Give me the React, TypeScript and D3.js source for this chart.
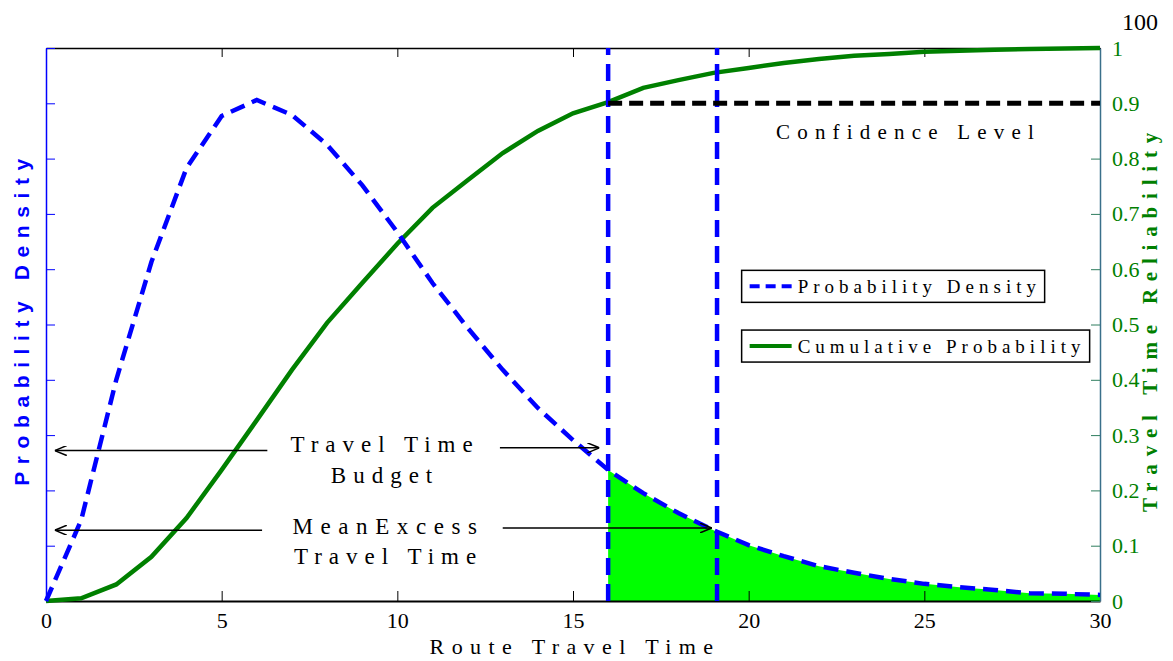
import React, { useEffect, useRef } from "react";
import * as d3 from "d3";

// route travel time (x) samples
const travelTimes = d3.range(0, 31);

// probability density (left axis, 0..0.1)
const densityValues = [
  0, 0.0146, 0.04, 0.0613, 0.0783, 0.0877, 0.0906, 0.0879, 0.0825, 0.0752,
  0.0667, 0.0575, 0.0494, 0.0418, 0.0349, 0.0291, 0.0237, 0.0195, 0.0159,
  0.0128, 0.0101, 0.0081, 0.0063, 0.0051, 0.004, 0.0031, 0.0025, 0.002,
  0.0014, 0.0013, 0.0011,
];

// cumulative probability (right axis, 0..1)
const cumulativeValues = [
  0, 0.005, 0.03, 0.08, 0.15, 0.237, 0.327, 0.418, 0.503, 0.575, 0.646, 0.711,
  0.761, 0.81, 0.85, 0.882, 0.902, 0.928, 0.942, 0.955, 0.964, 0.973, 0.98,
  0.986, 0.989, 0.993, 0.995, 0.997, 0.998, 0.999, 1,
];

const xTicks = [0, 5, 10, 15, 20, 25, 30];
const rightTicks = [0, 0.1, 0.2, 0.3, 0.4, 0.5, 0.6, 0.7, 0.8, 0.9, 1];
const leftTicks = [0, 0.01, 0.02, 0.03, 0.04, 0.05, 0.06, 0.07, 0.08, 0.09, 0.1];

const budgetTime = 16;
const excessTime = 19.1;
const confidenceLevel = 0.9;

const SERIF = "Liberation Serif";
const SANS = "Liberation Sans";

const App = () => {
  const chartRef = useRef<HTMLDivElement>(null);

  useEffect(() => {
    d3.select(chartRef.current).select("svg").remove();

    const W = 1173;
    const H = 661;
    const margin = { top: 48, right: 73, bottom: 60, left: 46 };
    const width = W - margin.left - margin.right;
    const height = H - margin.top - margin.bottom;

    const root = d3
      .select(chartRef.current)
      .append("svg")
      .attr("width", W)
      .attr("height", H)
      .style("position", "absolute")
      .style("left", "0px")
      .style("top", "0px")
      .style("background", "#fff");

    const svg = root.append("g").attr("transform", `translate(${margin.left},${margin.top})`);

    const x = d3.scaleLinear().domain([0, 30]).range([0, width]);
    const yL = d3.scaleLinear().domain([0, 0.1]).range([height, 0]);
    const yR = d3.scaleLinear().domain([0, 1]).range([height, 0]);

    const pts = travelTimes.map((t, i) => ({ t, d: densityValues[i], c: cumulativeValues[i] }));

    // marker for arrows
    root
      .append("defs")
      .append("marker")
      .attr("id", "arrow")
      .attr("viewBox", "0 0 12 10")
      .attr("refX", 12)
      .attr("refY", 5)
      .attr("markerWidth", 12)
      .attr("markerHeight", 10)
      .attr("markerUnits", "userSpaceOnUse")
      .attr("orient", "auto")
      .append("path")
      .attr("d", "M0,0 L12,5 L0,10")
      .attr("fill", "none")
      .attr("stroke", "#000")
      .attr("stroke-width", 1.5);

    // green shaded tail under density beyond budget
    const tail = pts.filter((p) => p.t >= budgetTime);
    svg
      .append("path")
      .datum(tail)
      .attr("fill", "#00ff00")
      .attr(
        "d",
        d3
          .area<any>()
          .x((p) => x(p.t))
          .y0(height)
          .y1((p) => yL(p.d))
      );

    // bottom axis (ticks inward)
    const xAxis = svg
      .append("g")
      .attr("transform", `translate(0,${height})`)
      .call(d3.axisBottom(x).tickValues(xTicks).tickSize(-10).tickPadding(11).tickSizeOuter(0));
    xAxis.attr("font-family", SERIF).attr("font-size", 22);
    xAxis.select(".domain").attr("stroke", "#000").attr("stroke-width", 2);
    xAxis.selectAll("line").attr("stroke", "#000");
    xAxis.selectAll("text").attr("fill", "#000");

    // top border with ticks
    const topAxis = svg
      .append("g")
      .call(d3.axisTop(x).tickValues(xTicks).tickSize(-9).tickFormat(() => "").tickSizeOuter(0));
    topAxis.select(".domain").attr("stroke", "#000").attr("stroke-width", 1.5);
    topAxis.selectAll("line").attr("stroke", "#000");

    // left axis (blue, no labels)
    const leftAxis = svg
      .append("g")
      .call(d3.axisLeft(yL).tickValues(leftTicks).tickSize(-9).tickFormat(() => "").tickSizeOuter(0));
    leftAxis.select(".domain").attr("stroke", "#0000ff").attr("stroke-width", 1.5);
    leftAxis.selectAll("line").attr("stroke", "#0000ff");

    // right axis (green labels)
    const rightAxis = svg
      .append("g")
      .attr("transform", `translate(${width},0)`)
      .call(
        d3
          .axisRight(yR)
          .tickValues(rightTicks)
          .tickSize(-9)
          .tickPadding(12)
          .tickFormat((d) => `${d}`)
          .tickSizeOuter(0)
      );
    rightAxis.attr("font-family", SERIF).attr("font-size", 22);
    rightAxis.select(".domain").attr("stroke", "#3a6f8a").attr("stroke-width", 1.5);
    rightAxis.selectAll("line").attr("stroke", "#2e7d5e");
    rightAxis.selectAll("text").attr("fill", "#008000");

    // cumulative curve
    svg
      .append("path")
      .datum(pts)
      .attr("fill", "none")
      .attr("stroke", "#008000")
      .attr("stroke-width", 4.5)
      .attr(
        "d",
        d3
          .line<any>()
          .x((p) => x(p.t))
          .y((p) => yR(p.c))
      );

    // density curve
    svg
      .append("path")
      .datum(pts)
      .attr("fill", "none")
      .attr("stroke", "#0000ff")
      .attr("stroke-width", 4.5)
      .attr("stroke-dasharray", "15 8")
      .attr(
        "d",
        d3
          .line<any>()
          .x((p) => x(p.t))
          .y((p) => yL(p.d))
      );

    // vertical dashed lines at budget and mean excess
    [budgetTime, excessTime].forEach((t) => {
      svg
        .append("line")
        .attr("x1", x(t))
        .attr("x2", x(t))
        .attr("y1", height)
        .attr("y2", 0)
        .attr("stroke", "#0000ff")
        .attr("stroke-width", 4.5)
        .attr("stroke-dasharray", "17 9");
    });

    // confidence level line
    svg
      .append("line")
      .attr("x1", x(budgetTime))
      .attr("x2", x(30))
      .attr("y1", yR(confidenceLevel))
      .attr("y2", yR(confidenceLevel))
      .attr("stroke", "#000")
      .attr("stroke-width", 5)
      .attr("stroke-dasharray", "14 7");

    const label = (txt: string, tx: number, ty: number, size: number, spacing: number) =>
      svg
        .append("text")
        .attr("x", tx)
        .attr("y", ty)
        .attr("text-anchor", "middle")
        .attr("font-family", SERIF)
        .attr("font-size", size)
        .attr("letter-spacing", spacing)
        .attr("fill", "#000")
        .text(txt);

    label("Confidence Level", x(24.55), yR(0.835), 21, 7.2);

    // annotations
    label("Travel Time", x(9.65), yL(0.0269), 23, 7);
    label("Budget", x(9.65), yL(0.0214), 23, 7);
    label("MeanExcess", x(9.75), yL(0.0122), 23, 7.6);
    label("Travel Time", x(9.75), yL(0.0067), 23, 7);

    const arrow = (x1: number, x2: number, y: number) =>
      svg
        .append("line")
        .attr("x1", x(x1))
        .attr("x2", x(x2))
        .attr("y1", yL(y))
        .attr("y2", yL(y))
        .attr("stroke", "#000")
        .attr("stroke-width", 1.5)
        .attr("marker-end", "url(#arrow)");

    arrow(6.3, 0.25, 0.0272);
    arrow(12.92, 15.75, 0.0277);
    arrow(6.15, 0.25, 0.0128);
    arrow(13.0, 18.95, 0.0132);

    // legend
    const legendItems = [
      { name: "Probability Density", color: "#0000ff", dash: "10 6", y: 0.0569, w: 303 },
      { name: "Cumulative Probability", color: "#008000", dash: null, y: 0.0461, w: 348 },
    ];
    legendItems.forEach((it) => {
      const g = svg.append("g").attr("transform", `translate(${x(19.8)},${yL(it.y)})`);
      g.append("rect")
        .attr("x", 0)
        .attr("y", -16)
        .attr("width", it.w)
        .attr("height", 32)
        .attr("fill", "#fff")
        .attr("stroke", "#000")
        .attr("stroke-width", 1.5);
      g.append("line")
        .attr("x1", 8)
        .attr("x2", 50)
        .attr("y1", 0)
        .attr("y2", 0)
        .attr("stroke", it.color)
        .attr("stroke-width", 4)
        .attr("stroke-dasharray", it.dash);
      g.append("text")
        .attr("x", 56)
        .attr("y", 7)
        .attr("font-family", SERIF)
        .attr("font-size", 19)
        .attr("letter-spacing", 5)
        .attr("fill", "#000")
        .text(it.name);
    });

    // axis titles
    svg
      .append("text")
      .attr("transform", `translate(${-margin.left + 29},${height / 2 - 6}) rotate(-90)`)
      .attr("text-anchor", "middle")
      .attr("font-family", SANS)
      .attr("font-weight", "bold")
      .attr("font-size", 21)
      .attr("letter-spacing", 7.6)
      .attr("fill", "#0000ff")
      .text("Probability Density");

    svg
      .append("text")
      .attr("transform", `translate(${width + 57},${height / 2 - 6}) rotate(-90)`)
      .attr("text-anchor", "middle")
      .attr("font-family", SERIF)
      .attr("font-weight", "bold")
      .attr("font-size", 21)
      .attr("letter-spacing", 7.8)
      .attr("fill", "#008000")
      .text("Travel Time Reliability");

    svg
      .append("text")
      .attr("x", width / 2 + 2)
      .attr("y", height + 53)
      .attr("text-anchor", "middle")
      .attr("font-family", SERIF)
      .attr("font-size", 22)
      .attr("letter-spacing", 7.4)
      .attr("fill", "#000")
      .text("Route Travel Time");

    root
      .append("text")
      .attr("x", 1140)
      .attr("y", 30)
      .attr("text-anchor", "middle")
      .attr("font-family", SERIF)
      .attr("font-size", 24)
      .attr("fill", "#000")
      .text("100");
  }, []);

  return <div ref={chartRef}></div>;
};

export default App;
